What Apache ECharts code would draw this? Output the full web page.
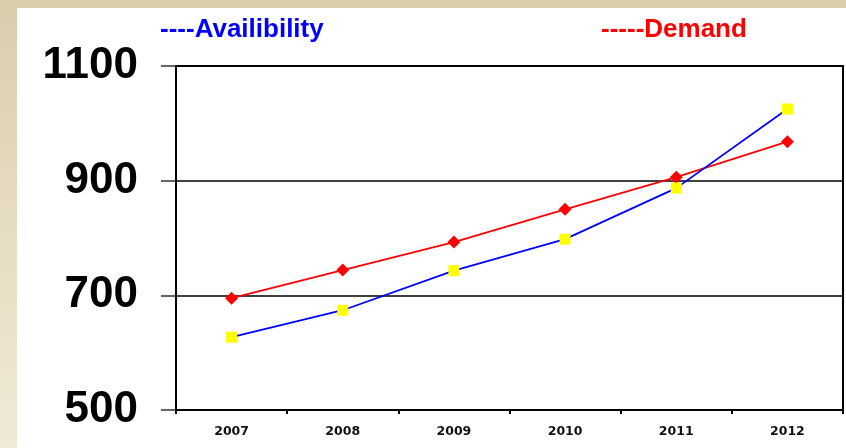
<!DOCTYPE html>
<html>
<head>
<meta charset="utf-8">
<script src="https://cdn.jsdelivr.net/npm/echarts@6/dist/echarts.min.js"></script>
<style>
  html, body { margin:0; padding:0; }
  body { width:846px; height:448px; overflow:hidden; position:relative;
         background: linear-gradient(to bottom, #d9cdac 0%, #e6dcc0 50%, #efe9d7 100%); }
  #paper { position:absolute; left:17px; top:8px; width:829px; height:440px; background:#fff; }
  #chart { position:absolute; left:0; top:0; width:846px; height:448px; }
</style>
</head>
<body>
<div id="paper"></div>
<div id="chart"></div>
<script>
const years = ['2007', '2008', '2009', '2010', '2011', '2012'];
const availability = [627, 674, 743, 798, 887, 1025];
const demand = [695, 744, 793, 850, 906, 968];
const yTicks = { min: 500, max: 1100, interval: 200 };
const legendTexts = ['----Availibility', '-----Demand'];

const chart = echarts.init(document.getElementById('chart'), null, { renderer: 'canvas' });
chart.setOption({
  backgroundColor: 'transparent',
  animation: false,
  title: [
    { text: legendTexts[0], left: 155, top: 12,
      textStyle: { color: '#0000ff', fontSize: 26, fontWeight: 'bold', fontFamily: 'Liberation Sans, Arial, sans-serif' } },
    { text: legendTexts[1], left: 596, top: 12,
      textStyle: { color: '#ff0000', fontSize: 26, fontWeight: 'bold', fontFamily: 'Liberation Sans, Arial, sans-serif' } }
  ],
  grid: { left: 176, top: 66, right: 3, bottom: 38, show: true, borderColor: '#000', borderWidth: 2, backgroundColor: 'transparent' },
  xAxis: {
    type: 'category',
    data: years,
    boundaryGap: true,
    axisLine: { lineStyle: { color: '#000', width: 2 } },
    axisTick: { show: true, length: 4, lineStyle: { color: '#000', width: 2 } },
    axisLabel: { color: '#111', fontSize: 12.5, fontWeight: 'bold', fontFamily: 'DejaVu Sans, sans-serif', margin: 15 },
    splitLine: { show: false }
  },
  yAxis: {
    type: 'value',
    min: yTicks.min, max: yTicks.max, interval: yTicks.interval,
    axisLine: { show: true, lineStyle: { color: '#000', width: 2 } },
    axisTick: { show: true, length: 15, lineStyle: { color: '#333', width: 1.5 } },
    axisLabel: { color: '#000', fontSize: 44, fontWeight: 'bold', fontFamily: 'Liberation Sans, Arial, sans-serif', margin: 38,
                 formatter: function (v) { return String(v); } },
    splitLine: { show: true, lineStyle: { color: '#000', width: 1.5 } }
  },
  series: [
    {
      name: 'Demand', type: 'line', data: demand,
      symbol: 'diamond', symbolSize: 13,
      lineStyle: { color: '#ff0000', width: 1.8 },
      itemStyle: { color: '#ff0000' }
    },
    {
      name: 'Availibility', type: 'line', data: availability,
      symbol: 'rect', symbolSize: 11,
      lineStyle: { color: '#0000ff', width: 1.8 },
      itemStyle: { color: '#ffff00' }
    }
  ]
});
</script>
</body>
</html>
